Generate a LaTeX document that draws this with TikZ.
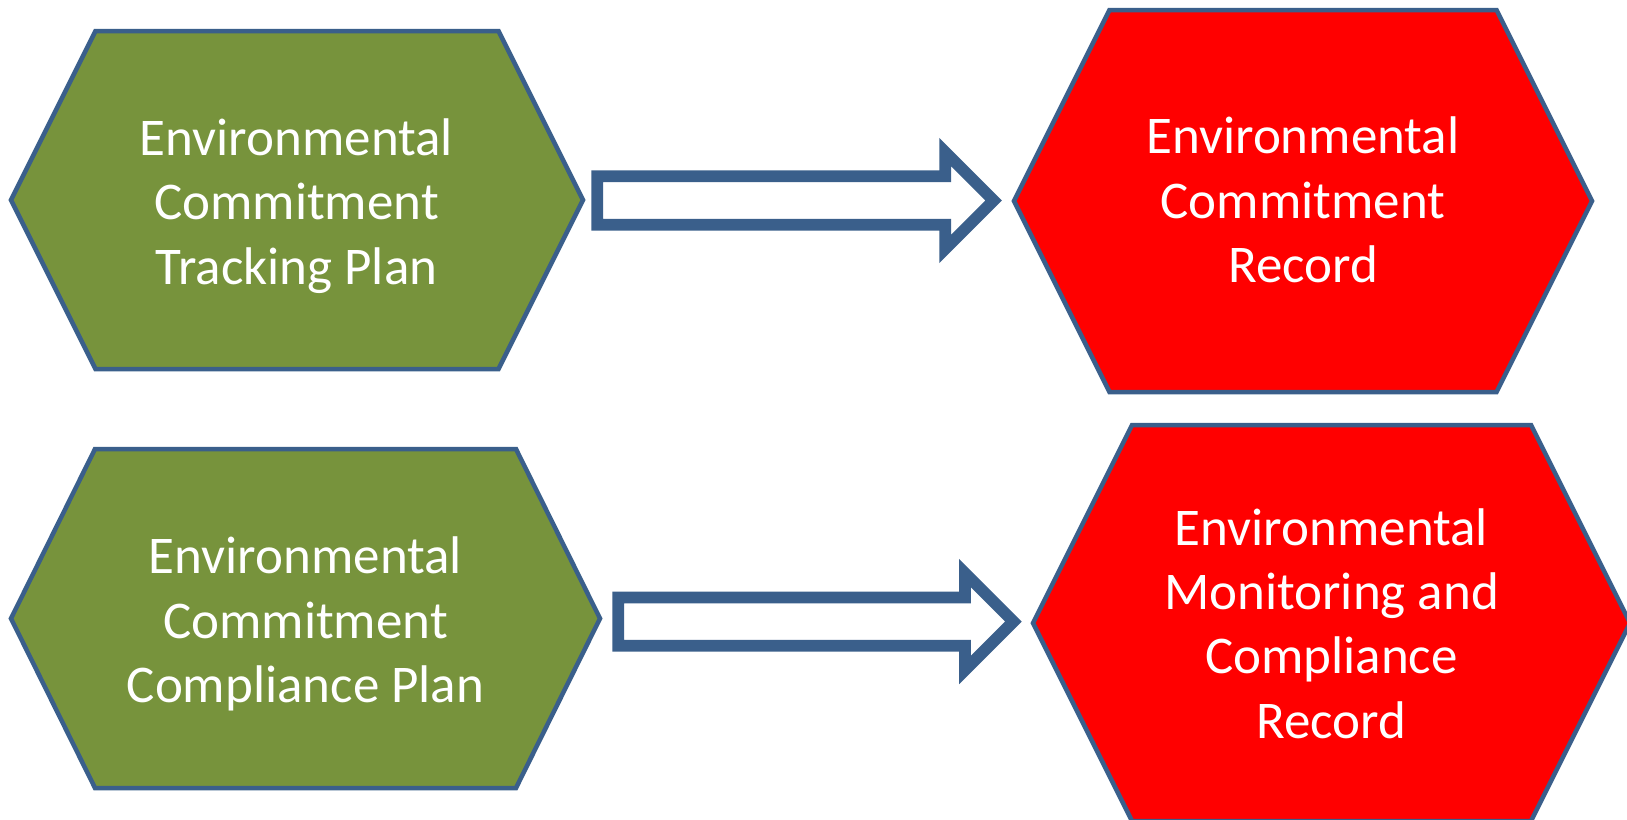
\documentclass[tikz,border=0pt]{standalone}
\usepackage{fontspec}
\setmainfont{Carlito}
\usetikzlibrary{calc}
\definecolor{hexgreen}{HTML}{77933C}
\definecolor{hexred}{HTML}{FF0000}
\definecolor{edgeblue}{HTML}{3A5F8B}
\newcommand{\hexat}[5]{% centre, fill, half width, half top width, half height
  \draw[hexshape,fill=#2] ($(#1)+(-#3,0)$) -- ($(#1)+(-#4,-#5)$) -- ($(#1)+(#4,-#5)$)
    -- ($(#1)+(#3,0)$) -- ($(#1)+(#4,#5)$) -- ($(#1)+(-#4,#5)$) -- cycle;}
\newcommand{\blockarrowfrom}[2]{% tail, tip
  \draw[blockarrow] ($(#1)+(0,-24.2)$) -- ($(#2)+(-48.5,-24.2)$) -- ($(#2)+(-48.5,-48.5)$)
    -- (#2) -- ($(#2)+(-48.5,48.5)$) -- ($(#2)+(-48.5,24.2)$) -- ($(#1)+(0,24.2)$) -- cycle;}
\begin{document}
\begin{tikzpicture}[x=1pt,y=-1pt,
  hexshape/.style={draw=edgeblue,line width=4.5pt,line join=miter},
  blockarrow/.style={draw=edgeblue,fill=white,line width=11.7pt,line join=miter,miter limit=10},
  hexlabel/.style={text=white,align=center,inner sep=0pt,font=\fontsize{53}{64.3}\selectfont}]
\useasboundingbox (0,0) rectangle (1627,819);
\clip (0,0) rectangle (1627,819);
\coordinate (c1) at (297,200);
\coordinate (c2) at (1303,201);
\coordinate (c3) at (305.5,618.5);
\coordinate (c4) at (1331.5,623);
\hexat{c1}{hexgreen}{286}{201.5}{169}
\hexat{c2}{hexred}{289}{193.5}{191}
\hexat{c3}{hexgreen}{294.5}{210.5}{169.5}
\hexat{c4}{hexred}{298.5}{199.5}{198}
\node[hexlabel] (t1) at (296.5,206) {Environmental\\Commitment\\Tracking Plan};
\node[hexlabel] (t2) at (1303,200) {Environmental\\Commitment\\Record};
\node[hexlabel] (t3) at (305.5,624) {Environmental\\Commitment\\Compliance Plan};
\node[hexlabel] (t4) at (1331.5,623.5) {Environmental\\Monitoring and\\Compliance\\Record};
\coordinate (a1s) at (597.3,200.5);
\coordinate (a1e) at (993.7,200.5);
\coordinate (a2s) at (618.2,621.6);
\coordinate (a2e) at (1013.4,621.6);
\blockarrowfrom{a1s}{a1e}
\blockarrowfrom{a2s}{a2e}
\end{tikzpicture}
\end{document}
